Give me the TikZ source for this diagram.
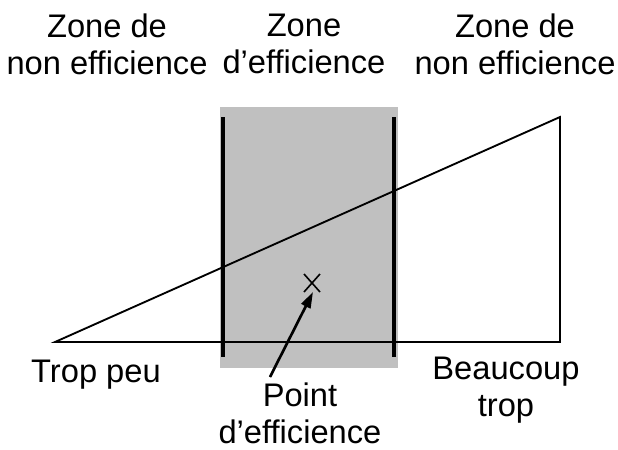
\documentclass[tikz,border=0pt]{standalone}
\usepackage{fontspec}
\setmainfont{Liberation Sans}
\usetikzlibrary{arrows.meta}
\definecolor{ZoneGray}{HTML}{C0C0C0}

\begin{document}
\begin{tikzpicture}[x=0.75pt,y=-0.75pt,
  lab/.style={align=center,inner sep=0pt,
    font=\fontsize{24.5}{27.5}\selectfont},
  thin/.style={line width=1.4pt},
  bar/.style={line width=2.3pt},
  ptr/.style={-{Triangle[length=12pt,width=7.5pt]},line width=2pt}]
  \useasboundingbox (0,0) rectangle (618,450);
  % zone d'efficience
  \fill[ZoneGray] (220,107) rectangle (398,368);
  \coordinate (L1) at (223,117);
  \coordinate (L2) at (223,357);
  \coordinate (R1) at (394,117);
  \coordinate (R2) at (394,357);
  \draw[bar] (L1) -- (L2);
  \draw[bar] (R1) -- (R2);
  % triangle
  \coordinate (A) at (55,342);
  \coordinate (B) at (560,342);
  \coordinate (C) at (560,117);
  \draw[thin] (A) -- (B) -- (C) -- cycle;
  % point d'efficience
  \coordinate (X) at (312,283);
  \draw[line width=1.2pt] ([shift={(-8,-9)}]X) -- ([shift={(8,9)}]X)
    ([shift={(-8,9)}]X) -- ([shift={(8,-9)}]X);
  % textes
  \node[lab] (z1) at (107,44) {Zone de\\non efficience};
  \node[lab] (z2) at (304,44) {Zone\\d’efficience};
  \node[lab] (z3) at (515,44) {Zone de\\non efficience};
  \node[lab] (tp) at (96,375) {Trop peu};
  \node[lab] (bt) at (506,390) {Beaucoup\\trop};
  \node[lab] (pe) at (300,413) {Point\\d’efficience};
  \coordinate (tail) at (270,377);
  \draw[ptr] (tail) -- ([shift={(1,9)}]X);
\end{tikzpicture}
\end{document}
